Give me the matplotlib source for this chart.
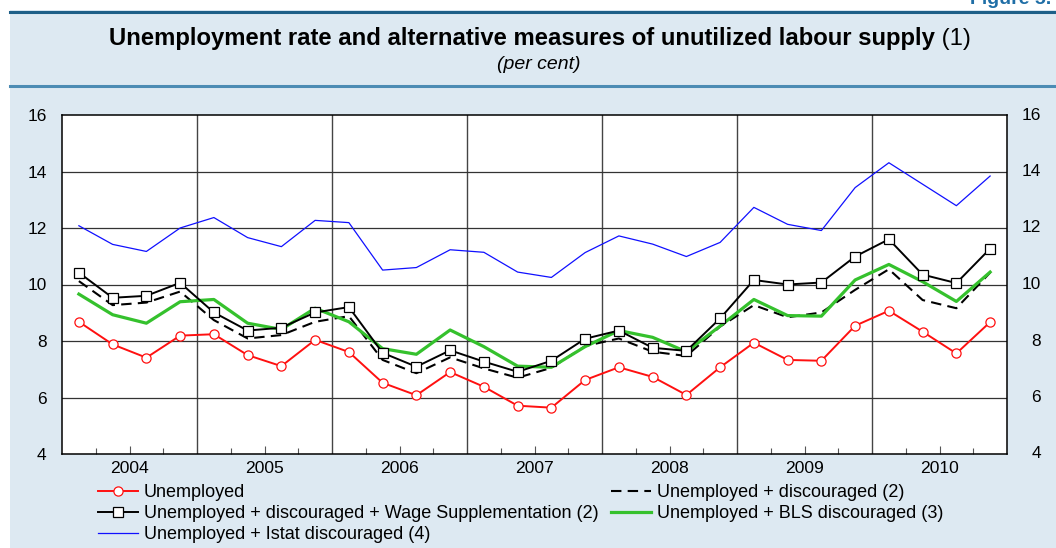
import matplotlib
matplotlib.use('Agg')
import matplotlib.pyplot as plt
import matplotlib.transforms as mtransforms
from matplotlib.patches import Rectangle
from matplotlib.lines import Line2D
import pandas as pd

plt.rcParams['font.family'] = ['Liberation Sans', 'DejaVu Sans']

# quarterly data, 2004Q1 - 2010Q4 (per cent)
quarters = pd.period_range('2004Q1', '2010Q4', freq='Q')
years = list(range(2004, 2011))
yticks = [4, 6, 8, 10, 12, 14, 16]

unemployed = [8.68, 7.88, 7.41, 8.19, 8.24, 7.50, 7.11, 8.04, 7.61, 6.52, 6.08, 6.90,
              6.38, 5.71, 5.64, 6.62, 7.07, 6.73, 6.09, 7.07, 7.94, 7.33, 7.30, 8.54,
              9.07, 8.33, 7.56, 8.67]
discouraged = [10.12, 9.27, 9.36, 9.75, 8.74, 8.09, 8.21, 8.68, 8.88, 7.33, 6.86, 7.42,
               7.03, 6.70, 7.05, 7.82, 8.09, 7.62, 7.47, 8.51, 9.27, 8.84, 9.01, 9.81,
               10.54, 9.45, 9.16, 10.42]
wage_suppl = [10.42, 9.53, 9.60, 10.06, 9.01, 8.37, 8.47, 9.01, 9.20, 7.58, 7.09, 7.67,
              7.27, 6.91, 7.30, 8.08, 8.37, 7.76, 7.65, 8.80, 10.16, 10.00, 10.07, 10.99,
              11.60, 10.35, 10.05, 11.27]
bls = [9.66, 8.93, 8.63, 9.39, 9.47, 8.63, 8.41, 9.16, 8.68, 7.73, 7.53, 8.39,
       7.80, 7.11, 7.07, 7.80, 8.37, 8.13, 7.62, 8.53, 9.47, 8.90, 8.88, 10.16,
       10.71, 10.10, 9.40, 10.44]
istat = [12.08, 11.42, 11.17, 12.00, 12.37, 11.66, 11.34, 12.27, 12.19, 10.51, 10.60, 11.23,
         11.14, 10.44, 10.25, 11.13, 11.72, 11.43, 10.99, 11.49, 12.73, 12.13, 11.91, 13.43,
         14.31, 13.55, 12.79, 13.84]

labels = ['Unemployed',
          'Unemployed + discouraged (2)',
          'Unemployed + discouraged + Wage Supplementation (2)',
          'Unemployed + BLS discouraged (3)',
          'Unemployed + Istat discouraged (4)']

W, H = 1056, 548
BG = '#dde9f2'

# points sit in the middle of each quarter
x = quarters.year + (quarters.quarter - 0.5) / 4

fig = plt.figure(figsize=(W / 100, H / 100), dpi=100, facecolor='white')
fig.patches.append(Rectangle((10 / W, 0), 1, 1 - 10 / H, transform=fig.transFigure,
                             facecolor=BG, edgecolor='none', zorder=-10))
fig.add_artist(Line2D([10 / W, 1], [1 - 12 / H, 1 - 12 / H], color='#1d5f88', lw=2.2))
fig.add_artist(Line2D([10 / W, 1], [1 - 86 / H, 1 - 86 / H], color='#4c8cb4', lw=2.2))

ax = fig.add_axes([62 / W, 1 - 454 / H, (1007 - 62) / W, (454 - 115) / H])
ax.set_facecolor('white')

# year separators + horizontal grid
for yr in years[1:]:
    ax.axvline(yr, color='#444444', lw=1.0, zorder=1)
for v in yticks[1:-1]:
    ax.axhline(v, color='#333333', lw=0.9, zorder=1)

ax.plot(x, istat, color='#1010ff', lw=0.9, zorder=3)
ax.plot(x, discouraged, color='black', lw=1.5, dashes=(5, 3), zorder=4)
ax.plot(x, bls, color='#35c12d', lw=2.3, zorder=5)
ax.plot(x, wage_suppl, color='black', lw=1.4, marker='s', ms=7, mfc='white', mec='black',
        mew=0.9, zorder=6)
ax.plot(x, unemployed, color='#ff1010', lw=1.4, marker='o', ms=6.6, mfc='white', mec='#ff1010',
        mew=0.9, zorder=7)

ax.set_xlim(2004, 2011)
ax.set_ylim(4, 16)
ax.set_yticks(yticks)
ax.tick_params(axis='y', length=0, labelsize=12.4, pad=11)

# right-hand scale, right aligned
rtrans = mtransforms.blended_transform_factory(ax.transAxes, ax.transData) + \
    mtransforms.ScaledTranslation(34 / 100, 0, fig.dpi_scale_trans)
for v in yticks:
    ax.text(1.0, v, str(v), transform=rtrans, ha='right', va='center', fontsize=12.4,
            clip_on=False)

ax.set_xticks([yr + 0.5 for yr in years])
ax.set_xticklabels([str(yr) for yr in years])
ax.set_xticks([yr + q for yr in years for q in (0.25, 0.75)], minor=True)
ax.tick_params(axis='x', which='major', direction='in', length=6, width=0.8, color='#555555',
               labelsize=12.6, pad=5)
ax.tick_params(axis='x', which='minor', direction='in', length=4.3, width=0.8, color='#555555')
for s in ax.spines.values():
    s.set_linewidth(1.1)
    s.set_color('black')

# title (bold part + plain "(1)")
fig.canvas.draw()
renderer = fig.canvas.get_renderer()
t1 = fig.text(0, 1 - 44.5 / H, 'Unemployment rate and alternative measures of unutilized labour supply',
              fontsize=17.2, fontweight='bold', va='baseline')
t2 = fig.text(0, 1 - 44.5 / H, ' (1)', fontsize=17.2, va='baseline')
w1 = t1.get_window_extent(renderer).width
w2 = t2.get_window_extent(renderer).width
x0 = 540 - (w1 + w2) / 2
t1.set_x(x0 / W)
t2.set_x((x0 + w1) / W)
fig.text(539 / W, 1 - 65 / H, '(per cent)', fontsize=14, style='italic', ha='center', va='center')
fig.text(970 / W, 1 - 4 / H, 'Figure 5.', fontsize=14, fontweight='bold', color='#1f6ea6',
         va='baseline', ha='left')

# legend: column-major ordering
h = ax.get_lines()
handles = [h[-1], h[-2], h[-5], h[-4], h[-3]]
leg_labels = [labels[0], labels[2], labels[4], labels[1], labels[3]]
fig.legend(handles, leg_labels, loc='upper left', bbox_to_anchor=(98 / W, 1 - 484 / H),
           ncol=2, frameon=False, fontsize=13, handlelength=2.2, handletextpad=0.35,
           columnspacing=0.7, labelspacing=0.22, borderpad=0, borderaxespad=0)

fig.savefig('out.png', dpi=100, facecolor=fig.get_facecolor())
